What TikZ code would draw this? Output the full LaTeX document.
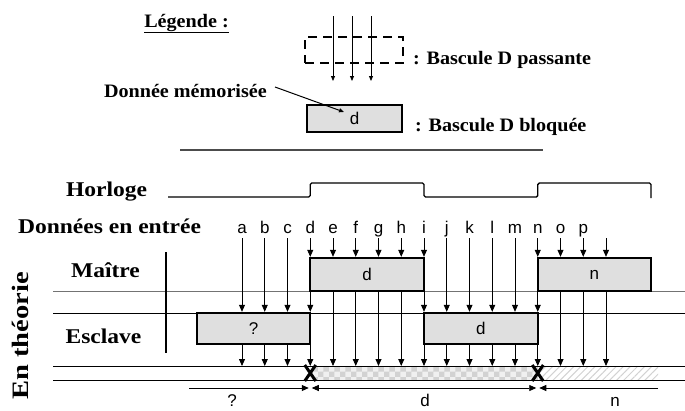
\documentclass[tikz,border=0pt]{standalone}
\usepackage{fontspec}
\setmainfont{Liberation Serif}
\setsansfont{Liberation Sans}
\usetikzlibrary{arrows.meta,positioning,patterns,patterns.meta,shapes.misc}

\begin{document}
\begin{tikzpicture}[
    x=1pt, y=-1pt,
    heading/.style={font=\bfseries\fontsize{21}{23}\selectfont, xscale=1.12, inner sep=0pt, anchor=base},
    legtext/.style={font=\bfseries\fontsize{19}{21}\selectfont, xscale=1.06, inner sep=0pt, anchor=base},
    sig/.style={font=\sffamily\fontsize{17}{19}\selectfont, inner sep=0pt, anchor=base},
    latch/.style={rectangle, draw=black, line width=2.4pt, fill=gray!25, inner sep=0pt, font=\sffamily\fontsize{17}{19}\selectfont},
    master/.style={latch, minimum height=33pt},
    slave/.style={latch, minimum height=31pt},
    arrow/.style={-{Triangle[length=7pt,width=6pt]}, line width=0.8pt},
    smallarrow/.style={-{Triangle[length=5pt,width=4pt]}, line width=0.8pt},
    dimboth/.style={{Triangle[length=7pt,width=6pt]}-{Triangle[length=7pt,width=6pt]}, line width=0.8pt, shorten <=1.5pt, shorten >=1.5pt},
    rail/.style={line width=0.9pt},
    swapmark/.style={cross out, draw, line width=3pt, minimum width=8pt, minimum height=13pt, inner sep=0pt}
]
    \useasboundingbox (0,0) rectangle (685,410);

    % Legend
    \node (legend) [legtext] at (186.5,27) {\underline{Légende :}};
    \node (pass) [rectangle, draw, line width=2pt, dash pattern=on 9pt off 6pt, minimum width=98pt, minimum height=26pt] at (354,50) {};
    \foreach \dx in {-21,-2,17}
        \draw[smallarrow] ([shift={(\dx pt,20pt)}]pass.north) -- ([shift={(\dx pt,-17pt)}]pass.south);
    \node (passtxt) [legtext, anchor=base west] at (413,64) {: Bascule D passante};
    \node (held) [latch, minimum width=95pt, minimum height=27pt] at (354.5,118.5) {d};
    \node (heldtxt) [legtext, anchor=base west] at (415,131) {: Bascule D bloquée};
    \node (memo) [legtext, anchor=base east] at (267,97) {Donnée mémorisée};
    \draw[smallarrow, line width=1pt] ([xshift=8pt,yshift=3.5pt]memo.east) -- ([xshift=-10.5pt,yshift=6.5pt]held.center);
    \draw[line width=2pt, black!70] (180,150) -- (543,150);

    % Row titles
    \node (clk) [heading] at (106.5,196) {Horloge};
    \node (din) [heading] at (109.5,233) {Données en entrée};
    \node (mtxt) [heading] at (105.5,277) {Maître};
    \node (stxt) [heading] at (103.5,343) {Esclave};
    \node (theory) [heading, anchor=center, rotate=90, xscale=1.36] at (20,336) {En théorie};

    % Clock
    \draw[line width=1.4pt, rounded corners=1.5pt] (168,197) -| (310.25,183) -| (424,197) -| (537.75,183) -| (651,198);

    % Output lane
    \fill[gray!12] (310.25,366) rectangle (537.75,380);
    \fill[pattern=checkerboard, pattern color=gray!35] (310.25,366) rectangle (537.75,380);
    \fill[pattern={Lines[angle=45,distance=5pt,line width=1pt]}, pattern color=gray!35] (537.75,366) rectangle (658,380);

    % Rails
    \draw[rail, black!55] (53,291) -- (685,291);
    \draw[rail] (53,313) -- (685,313);
    \draw[rail] (53,366) -- (685,366);
    \draw[rail] (53,380) -- (685,380);
    \draw[line width=2.4pt] (166,252) -- (166,353);
    \coordinate (otop) at (53,366);

    % Inputs
    \foreach \name [count=\idx from 0] in {a,b,c,d,e,f,g,h,i,j,k,l,m,n,o,p}
        \node (in\idx) [sig] at (242+22.75*\idx,233) {\name};
    \foreach \idx in {0,...,16}
        \coordinate (t\idx) at (242+22.75*\idx,238);

    % Latches
    \node (m1) [master, minimum width=113.75pt] at (367.125,274.5) {d};
    \node (m2) [master, minimum width=113.25pt] at (594.375,274.5) {n};
    \node (s1) [slave, minimum width=113.25pt] at (253.625,328.5) {?};
    \node (s2) [slave, minimum width=113.75pt] at (480.875,328.5) {d};

    % Arrows
    \foreach \idx in {0,1,2,9,10,11,12}
        \draw[arrow] (t\idx) -- (t\idx |- s1.north);
    \foreach \idx in {3,...,8,13,14,15,16}
        \draw[arrow] (t\idx) -- (t\idx |- m1.north);
    \foreach \idx in {3,8,13}
        \draw[arrow] (t\idx |- m1.south) -- (t\idx |- s1.north);
    \foreach \idx in {4,5,6,7,14,15,16}
        \draw[arrow] (t\idx |- m1.south) -- (t\idx |- otop);
    \draw[arrow] (t3 |- s1.north) -- (t3 |- otop);
    \foreach \idx in {0,1,2,8,9,10,11,12,13}
        \draw[arrow] (t\idx |- s1.south) -- (t\idx |- otop);

    % Output changes
    \node (sw1) [swapmark] at (310.25,373) {};
    \node (sw2) [swapmark] at (537.75,373) {};
    \coordinate (dstart) at (189,388);
    \coordinate (dend) at (658,388);
    \draw[arrow, shorten >=1.5pt] (dstart) -- (sw1 |- dstart);
    \draw[dimboth] (sw1 |- dstart) -- (sw2 |- dstart);
    \draw[arrow, shorten >=1.5pt] (dend) -- (sw2 |- dstart);
    \node (dq) [sig] at (232,406) {?};
    \node (dd) [sig] at (425,406) {d};
    \node (dn) [sig] at (615,406) {n};
\end{tikzpicture}
\end{document}
